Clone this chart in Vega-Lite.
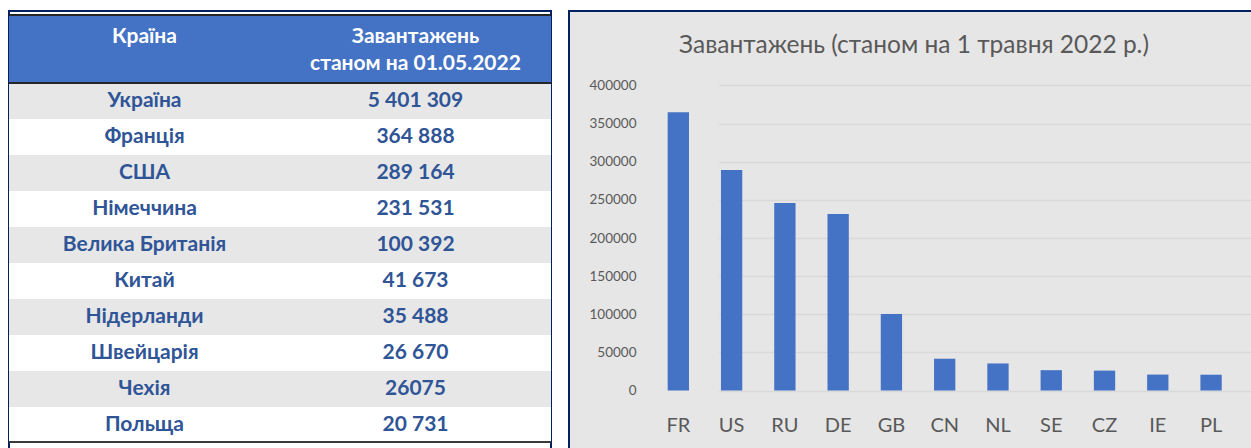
{
  "$schema": "https://vega.github.io/schema/vega-lite/v6.json",
  "background": "white",
  "padding": {"left": 7, "top": 10, "right": 0, "bottom": 0},
  "spacing": 15,
  "config": {
    "view": {"stroke": null},
    "font": "Lato",
    "axisX": {"domain": false, "ticks": false, "grid": false, "labelFont": "Lato", "labelFontSize": 20, "labelColor": "#595959", "labelPadding": 0, "offset": -34, "labelAngle": 0},
    "axisY": {"domain": false, "ticks": false, "grid": false, "labelFont": "Lato", "labelFontSize": 13.5, "labelColor": "#595959", "labelPadding": 0, "offset": -67}
  },
  "datasets": {
    "header": [
      {"band": "h1", "col": "Країна", "label": "Країна"},
      {"band": "h1", "col": "Завантажень", "label": "Завантажень"},
      {"band": "h2", "col": "Завантажень", "label": "станом на 01.05.2022"}
    ],
    "table": [
      {"country": "Україна", "shown": "5 401 309"},
      {"country": "Франція", "shown": "364 888"},
      {"country": "США", "shown": "289 164"},
      {"country": "Німеччина", "shown": "231 531"},
      {"country": "Велика Британія", "shown": "100 392"},
      {"country": "Китай", "shown": "41 673"},
      {"country": "Нідерланди", "shown": "35 488"},
      {"country": "Швейцарія", "shown": "26 670"},
      {"country": "Чехія", "shown": "26075"},
      {"country": "Польща", "shown": "20 731"}
    ],
    "downloads": [
      {"code": "FR", "value": 364888},
      {"code": "US", "value": 289164},
      {"code": "RU", "value": 246000},
      {"code": "DE", "value": 231531},
      {"code": "GB", "value": 100392},
      {"code": "CN", "value": 41673},
      {"code": "NL", "value": 35488},
      {"code": "SE", "value": 26670},
      {"code": "CZ", "value": 26075},
      {"code": "IE", "value": 20900},
      {"code": "PL", "value": 20731}
    ]
  },
  "hconcat": [
    {
      "width": 542,
      "height": 438,
      "view": {"fill": "white", "stroke": "#002060", "strokeWidth": 2},
      "layer": [
        {
          "data": {"name": "header"},
          "mark": {"type": "rect", "fill": "#4472c4", "yOffset": 4},
          "encoding": {
            "y": {
              "field": "band", "type": "nominal", "axis": null, "title": null,
              "scale": {
                "type": "band",
                "domain": ["h1", "h2", "Україна", "Франція", "США", "Німеччина", "Велика Британія", "Китай", "Нідерланди", "Швейцарія", "Чехія", "Польща"],
                "paddingInner": 0, "paddingOuter": 0.0833, "align": 0
              }
            }
          }
        },
        {
          "data": {"name": "table"},
          "transform": [{"window": [{"op": "row_number", "as": "rowNo"}]}],
          "mark": {"type": "rect"},
          "encoding": {
            "y": {"field": "country", "type": "nominal", "axis": null, "title": null},
            "fill": {"condition": {"test": "datum.rowNo % 2 == 1", "value": "#e7e7e7"}, "value": "#ffffff"}
          }
        },
        {
          "data": {"name": "header"},
          "mark": {"type": "rule", "color": "#262626", "strokeWidth": 2, "yOffset": -14},
          "encoding": {"y": {"datum": "h1", "type": "nominal", "axis": null}}
        },
        {
          "data": {"name": "header"},
          "mark": {"type": "rule", "color": "#262626", "strokeWidth": 2, "yOffset": -18},
          "encoding": {"y": {"datum": "Україна", "type": "nominal", "axis": null}}
        },
        {
          "data": {"name": "header"},
          "mark": {"type": "rule", "color": "#3a3a3a", "strokeWidth": 2, "yOffset": 17},
          "encoding": {"y": {"datum": "Польща", "type": "nominal", "axis": null}}
        },
        {
          "data": {"name": "header"},
          "transform": [{"filter": "datum.band == 'h1'"}],
          "mark": {"type": "text", "color": "white", "fontSize": 21, "fontWeight": "bold", "font": "Lato", "baseline": "middle", "dy": 8},
          "encoding": {
            "x": {"field": "col", "type": "nominal", "axis": null, "title": null,
                  "scale": {"type": "band", "domain": ["Країна", "Завантажень"], "paddingInner": 0, "paddingOuter": 0}},
            "y": {"field": "band", "type": "nominal", "axis": null, "title": null},
            "text": {"field": "label"}
          }
        },
        {
          "data": {"name": "header"},
          "transform": [{"filter": "datum.band == 'h2'"}],
          "mark": {"type": "text", "color": "white", "fontSize": 21, "fontWeight": "bold", "font": "Lato", "baseline": "middle", "dy": -1},
          "encoding": {
            "x": {"field": "col", "type": "nominal", "axis": null, "title": null},
            "y": {"field": "band", "type": "nominal", "axis": null, "title": null},
            "text": {"field": "label"}
          }
        },
        {
          "data": {"name": "table"},
          "mark": {"type": "text", "color": "#2f5597", "fontSize": 21, "fontWeight": "bold", "font": "Lato", "baseline": "middle"},
          "encoding": {
            "x": {"datum": "Країна", "type": "nominal", "axis": null},
            "y": {"field": "country", "type": "nominal", "axis": null, "title": null},
            "text": {"field": "country"}
          }
        },
        {
          "data": {"name": "table"},
          "mark": {"type": "text", "color": "#2f5597", "fontSize": 21, "fontWeight": "bold", "font": "Lato", "baseline": "middle"},
          "encoding": {
            "x": {"datum": "Завантажень", "type": "nominal", "axis": null},
            "y": {"field": "country", "type": "nominal", "axis": null, "title": null},
            "text": {"field": "shown"}
          }
        }
      ]
    },
    {
      "width": 690,
      "height": 438,
      "data": {"name": "downloads"},
      "view": {"fill": "#e6e6e6", "stroke": "#002060", "strokeWidth": 2},
      "title": {"text": "Завантажень (станом на 1 травня 2022 р.)", "fontSize": 24.5, "font": "Lato", "fontWeight": "normal", "color": "#595959", "anchor": "middle", "baseline": "top", "offset": -47},
      "mark": {"type": "bar", "color": "#4472c4"},
      "encoding": {
        "x": {
          "field": "code", "type": "nominal", "sort": null, "title": null,
          "scale": {"type": "band", "domain": ["FR", "US", "RU", "DE", "GB", "CN", "NL", "SE", "CZ", "IE", "PL"], "paddingInner": 0.6, "paddingOuter": 0.3, "range": [82.7, 668.7]}
        },
        "y": {
          "field": "value", "type": "quantitative", "title": null,
          "scale": {"domain": [-76700, 497700], "nice": false, "zero": false},
          "axis": {"values": [0, 50000, 100000, 150000, 200000, 250000, 300000, 350000, 400000], "format": "d", "grid": true, "gridColor": "#d9d9d9", "gridWidth": 1.5}
        }
      }
    }
  ]
}
